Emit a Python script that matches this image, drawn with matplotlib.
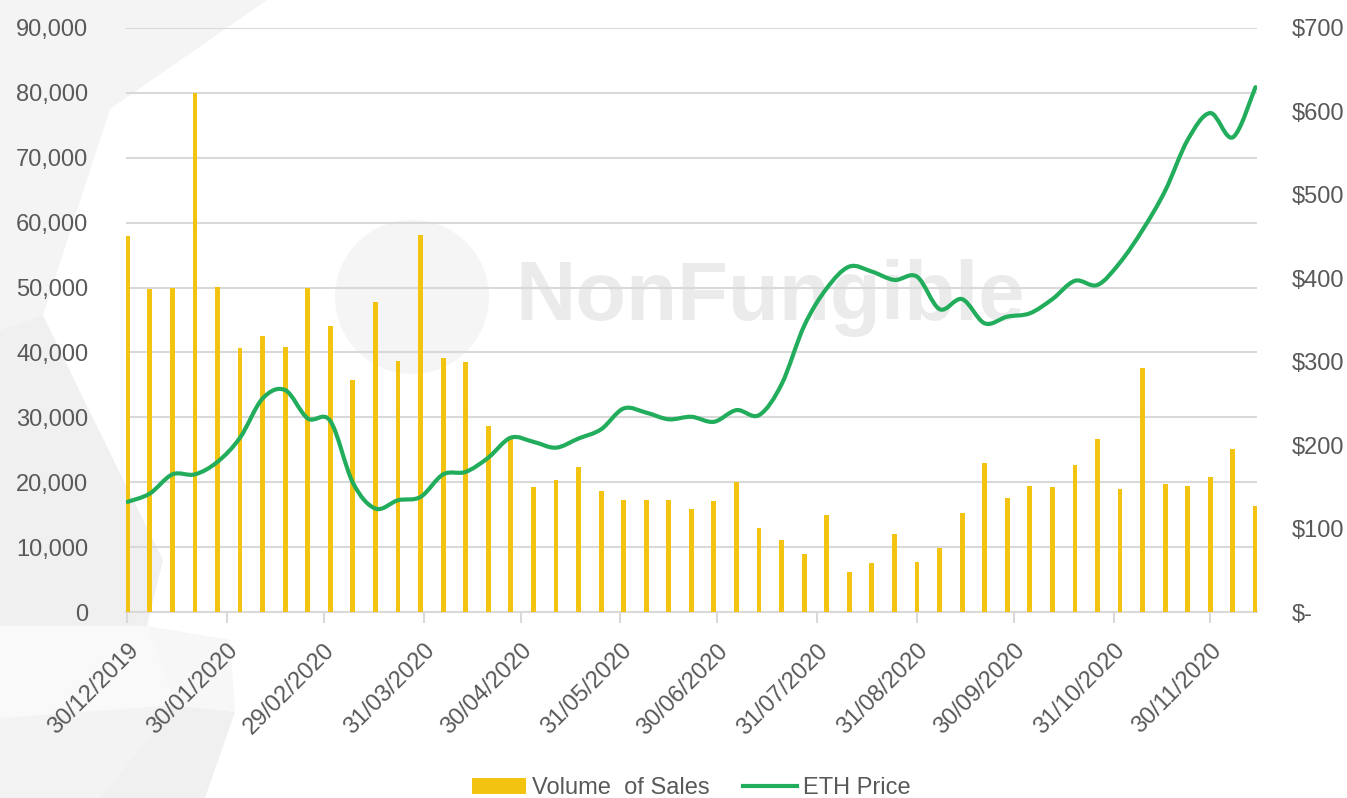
import numpy as np
import pandas as pd
import matplotlib
matplotlib.use("Agg")
import matplotlib.pyplot as plt
import matplotlib.dates as mdates
import matplotlib.transforms as mtransforms
from matplotlib.path import Path
from matplotlib.patches import PathPatch, Polygon, Circle, Patch
from matplotlib.lines import Line2D
from matplotlib.ticker import FuncFormatter

# ---------------- data ----------------
weeks = pd.date_range("2019-12-30", periods=51, freq="7D")

volume = [58000, 49700, 49900, 80000, 50100, 40700, 42600, 40900, 49900, 44100,
          35700, 47800, 38700, 58100, 39200, 38500, 28600, 27200, 19300, 20300,
          22300, 18700, 17300, 17300, 17300, 15900, 17100, 20000, 13000, 11100,
          9000, 14900, 6200, 7500, 12100, 7700, 9800, 15300, 22900, 17600,
          19500, 19200, 22600, 26600, 19000, 37600, 19800, 19500, 20800, 25200,
          16300]

eth_price = [132, 142, 165, 165, 180, 209, 256, 266, 232, 229,
             155, 124, 134, 138, 165, 168, 185, 209, 204, 197,
             208, 219, 244, 239, 231, 234, 228, 242, 236, 273,
             343, 388, 414, 408, 398, 402, 363, 375, 346, 354,
             358, 375, 397, 392, 419, 458, 505, 566, 598, 569,
             629]

tick_dates = ["30/12/2019", "30/01/2020", "29/02/2020", "31/03/2020", "30/04/2020",
              "31/05/2020", "30/06/2020", "31/07/2020", "31/08/2020", "30/09/2020",
              "31/10/2020", "30/11/2020"]

# ---------------- style ----------------
BAR_COLOR = "#F2C311"
LINE_COLOR = "#22AD5C"
TEXT_COLOR = "#595959"
GRID_COLOR = "#D9D9D9"
FS = 17
plt.rcParams["font.family"] = ["Liberation Sans", "DejaVu Sans"]

fig = plt.figure(figsize=(13.47, 7.98), dpi=100)

# background layer in pixel coordinates (decoration + watermark)
bg = fig.add_axes([0, 0, 1, 1], zorder=-1)
bg.set_xlim(0, 1347)
bg.set_ylim(798, 0)
bg.axis("off")
shapes = [
    ([(0, 0), (267, 0), (110, 109), (43, 315), (0, 330)], "#F4F4F4"),
    ([(0, 330), (43, 315), (80, 392), (163, 560), (147, 626), (0, 626)], "#F0F0F0"),
    ([(0, 626), (147, 626), (175, 705), (0, 718)], "#F9F9F9"),
    ([(0, 718), (175, 705), (100, 798), (0, 798)], "#F3F3F3"),
    ([(100, 798), (175, 705), (235, 712), (205, 798)], "#F0F0F0"),
    ([(147, 626), (230, 640), (235, 712), (175, 705)], "#F7F7F7"),
]
for pts, col in shapes:
    bg.add_patch(Polygon(pts, closed=True, facecolor=col, edgecolor="none"))
bg.add_patch(Circle((412, 297), 77, facecolor="#F5F5F5", edgecolor="none"))
bg.text(770, 298, "NonFungible", fontsize=60, fontweight="bold",
        family="Liberation Sans", color="#EBEBEB", ha="center", va="center")

ax = fig.add_axes([0.0935, 0.233, 0.8395, 0.732])
ax.patch.set_alpha(0)
ax2 = ax.twinx()

# bars
x_num = mdates.date2num(weeks)
ax.bar(x_num, volume, width=1.5, color=BAR_COLOR, zorder=3)

# smoothed ETH line (bezier through every weekly point)
xy = np.column_stack([x_num, np.asarray(eth_price, float)])
verts = [xy[0]]
codes = [Path.MOVETO]
n = len(xy)
for i in range(n - 1):
    p0 = xy[max(i - 1, 0)]
    p1 = xy[i]
    p2 = xy[i + 1]
    p3 = xy[min(i + 2, n - 1)]
    verts += [p1 + (p2 - p0) / 6, p2 - (p3 - p1) / 6, p2]
    codes += [Path.CURVE4] * 3
ax2.add_patch(PathPatch(Path(verts, codes), facecolor="none",
                        edgecolor=LINE_COLOR, lw=3, capstyle="round", zorder=4))

# axes limits / ticks
ax.set_xlim(x_num[0] - 0.4, x_num[-1] + 0.4)
ax.set_ylim(0, 90000)
ax2.set_ylim(0, 700)
ax.set_yticks(np.arange(0, 90001, 10000))
ax2.set_yticks(np.arange(0, 701, 100))
ax.yaxis.set_major_formatter(FuncFormatter(lambda v, p: f"{int(v):,}"))
ax2.yaxis.set_major_formatter(FuncFormatter(lambda v, p: "$-" if v == 0 else f"${int(v)}"))

tick_pos = mdates.date2num(pd.to_datetime(tick_dates, dayfirst=True))
ax.set_xticks(tick_pos)
ax.set_xticklabels(tick_dates, rotation=45, ha="right", va="top",
                   rotation_mode="anchor")
shift = mtransforms.ScaledTranslation(-8 / 100, 0, fig.dpi_scale_trans)
for lab in ax.get_xticklabels():
    lab.set_transform(lab.get_transform() + shift)

ax.grid(axis="y", color=GRID_COLOR, lw=1.5, zorder=0)
ax.set_axisbelow(True)
for a in (ax, ax2):
    for s in a.spines.values():
        s.set_visible(False)
ax.spines["bottom"].set_visible(True)
ax.spines["bottom"].set_color(GRID_COLOR)
ax.spines["bottom"].set_linewidth(1.5)

ax.tick_params(axis="x", colors=GRID_COLOR, length=8, width=1.5, pad=12,
               labelcolor=TEXT_COLOR, labelsize=FS)
ax.tick_params(axis="y", length=0, pad=27, labelcolor=TEXT_COLOR, labelsize=FS)
ax2.tick_params(axis="y", length=0, pad=25, labelcolor=TEXT_COLOR, labelsize=FS)

handles = [Patch(facecolor=BAR_COLOR, edgecolor="none"),
           Line2D([0], [0], color=LINE_COLOR, lw=3)]
fig.legend(handles, ["Volume  of Sales", "ETH Price"], loc="center",
           bbox_to_anchor=(0.513, 0.012), ncol=2, frameon=False, fontsize=FS,
           labelcolor=TEXT_COLOR, handlelength=2.3, handletextpad=0.25,
           columnspacing=1.4)

fig.savefig("out.png", dpi=100)
